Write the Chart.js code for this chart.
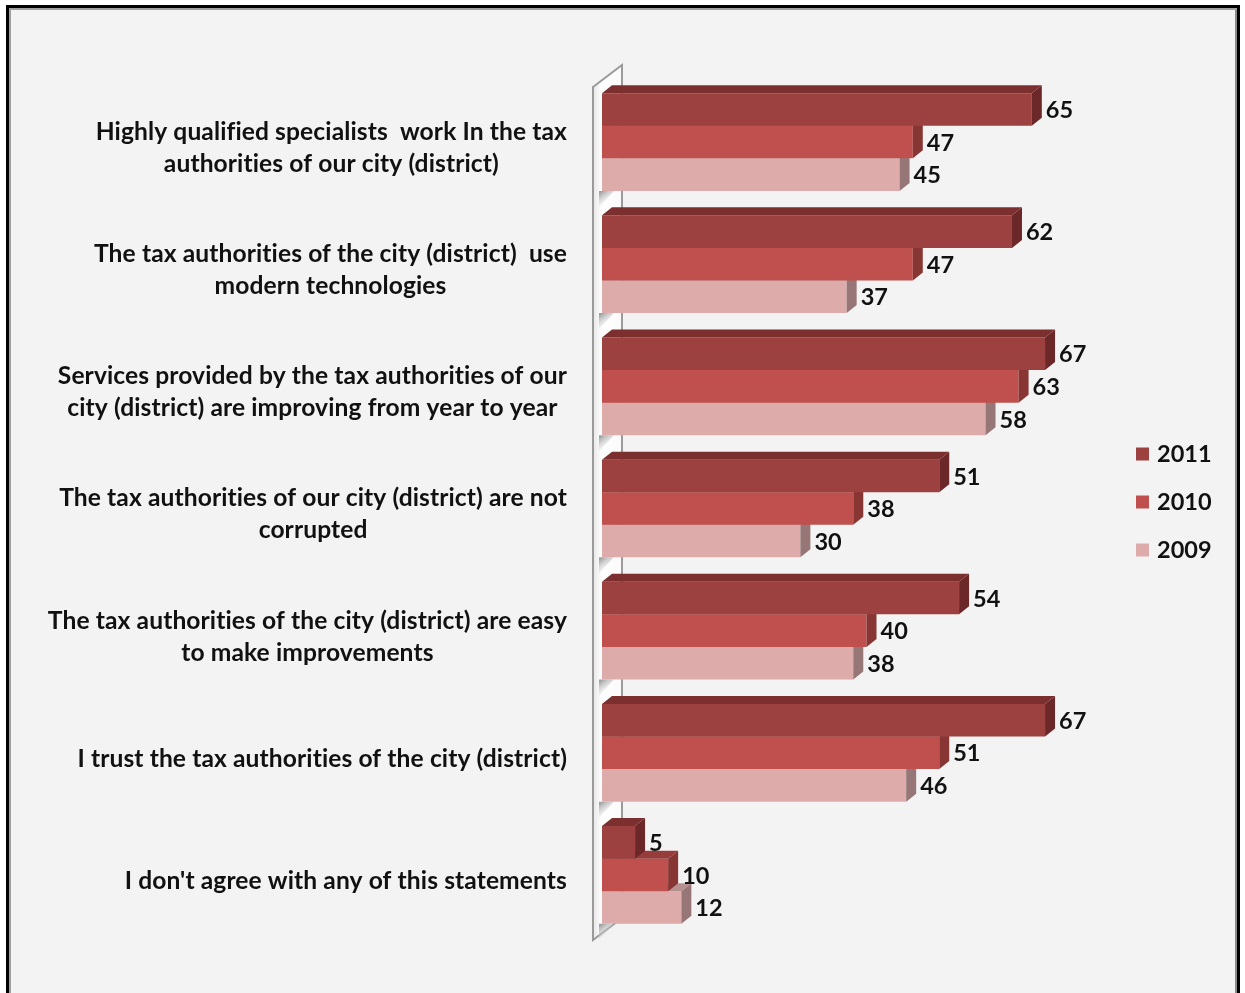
<!DOCTYPE html>
<html lang="en">
<head>
  <meta charset="UTF-8" />
  <title>Trust in the tax authorities</title>
  <script src="https://cdn.jsdelivr.net/npm/chart.js"></script>
  <style>
    html, body {
      margin: 0;
      padding: 0;
      background: #ffffff;
      overflow: hidden;
    }

    #frame {
      position: absolute;
      left: 6px;
      top: 5px;
      width: 1228px;
      height: 1010px;
      background: #f3f3f3;
      border: 3px solid #000;
      border-bottom: none;
      box-shadow: inset 2px 2px 0 #a0a0a0, inset -2px 0 0 #8a8a8a;
    }

    .chart-box {
      position: absolute;
      left: 0;
      top: 0;
      width: 1245px;
      height: 993px;
    }
  </style>
</head>
<body>
  <div id="frame"></div>
  <div class="chart-box">
    <canvas id="taxChart"></canvas>
  </div>

  <script>
    const statements = [
      ['Highly qualified specialists  work In the tax', 'authorities of our city (district)'],
      ['The tax authorities of the city (district)  use', 'modern technologies'],
      ['Services provided by the tax authorities of our', 'city (district) are improving from year to year'],
      ['The tax authorities of our city (district) are not', 'corrupted'],
      ['The tax authorities of the city (district) are easy', 'to make improvements'],
      ['I trust the tax authorities of the city (district)'],
      ["I don't agree with any of this statements"]
    ];
    const years = ['2011', '2010', '2009'];
    const values2011 = [65, 62, 67, 51, 54, 67, 5];
    const values2010 = [47, 47, 63, 38, 40, 51, 10];
    const values2009 = [45, 37, 58, 30, 38, 46, 12];

    // front / top / side colours for each year
    const faceColors = [
      { front: '#9d4140', top: '#7b2f2f', side: '#6c2828' },
      { front: '#c0504d', top: '#963c3a', side: '#883634' },
      { front: '#dcabaa', top: '#b88f8f', side: '#967676' }
    ];

    const FONT = 'bold 23.5px Lato, "Open Sans", sans-serif';
    const CAT_FONT = 'bold 24.6px Lato, "Open Sans", sans-serif';
    const DX = 10, DY = 8;

    function poly(ctx, pts, fill) {
      ctx.beginPath();
      ctx.moveTo(pts[0][0], pts[0][1]);
      for (let i = 1; i < pts.length; i++) ctx.lineTo(pts[i][0], pts[i][1]);
      ctx.closePath();
      ctx.fillStyle = fill;
      ctx.fill();
    }

    const bars3d = {
      id: 'bars3d',
      beforeDatasetsDraw(chart) {
        const ctx = chart.ctx;
        const a = chart.chartArea;
        const y = chart.scales.y;
        // side wall
        const fx = a.left - 9, bx = fx + 29;
        const top = a.top + 6, bottom = a.bottom + 4;
        ctx.save();
        const g = ctx.createLinearGradient(fx, 0, bx, 0);
        g.addColorStop(0, '#e6e6e6');
        g.addColorStop(0.3, '#ffffff');
        g.addColorStop(1, '#fafafa');
        ctx.beginPath();
        ctx.moveTo(fx, top);
        ctx.lineTo(bx, top - 22);
        ctx.lineTo(bx, bottom - 22);
        ctx.lineTo(fx, bottom);
        ctx.closePath();
        ctx.fillStyle = g;
        ctx.fill();
        ctx.strokeStyle = '#9a9a9a';
        ctx.lineWidth = 2;
        ctx.stroke();
        // shading under each group on the wall
        const step = y.getPixelForValue(1) - y.getPixelForValue(0);
        for (let i = 0; i < statements.length; i++) {
          const yb = y.getPixelForValue(i) + step * 0.4;
          const sg = ctx.createLinearGradient(a.left, yb, a.left + 10, yb + 14);
          sg.addColorStop(0, 'rgba(150,150,150,0.9)');
          sg.addColorStop(1, 'rgba(255,255,255,0)');
          poly(ctx, [[a.left - 3, yb], [a.left + 12, yb], [a.left - 3, yb + 16]], sg);
        }
        ctx.restore();
      },
      afterDatasetDraw(chart, args) {
        const ctx = chart.ctx;
        const c = faceColors[args.index];
        ctx.save();
        args.meta.data.forEach(bar => {
          const t = bar.y - bar.height / 2;
          const b = bar.y + bar.height / 2;
          poly(ctx, [[bar.base, t], [bar.base + DX, t - DY], [bar.x + DX, t - DY], [bar.x, t]], c.top);
          poly(ctx, [[bar.x, t], [bar.x + DX, t - DY], [bar.x + DX, b - DY], [bar.x, b]], c.side);
        });
        ctx.restore();
      },
      afterDatasetsDraw(chart) {
        const ctx = chart.ctx;
        const a = chart.chartArea;
        const y = chart.scales.y;
        ctx.save();
        ctx.font = FONT;
        ctx.fillStyle = '#111';
        ctx.textBaseline = 'middle';

        // value labels
        ctx.textAlign = 'left';
        chart.data.datasets.forEach((ds, di) => {
          chart.getDatasetMeta(di).data.forEach((bar, i) => {
            ctx.fillText(String(ds.data[i]), bar.x + DX + 4, bar.y + 1);
          });
        });

        // legend
        const midY = (a.top + a.bottom) / 2 - 7;
        chart.data.datasets.forEach((ds, di) => {
          const ly = midY + (di - 1) * 48;
          ctx.fillStyle = ds.backgroundColor;
          ctx.fillRect(a.right + 5, ly - 6, 13, 13);
          ctx.fillStyle = '#111';
          ctx.textAlign = 'left';
          ctx.fillText(ds.label, a.right + 26, ly + 1);
        });

        // category labels: block right-aligned, lines centred in the block
        ctx.font = CAT_FONT;
        ctx.letterSpacing = '0.1px'; // keeps "ti" from turning into a ligature
        ctx.textAlign = 'center';
        const right = a.left - 35;
        statements.forEach((lines, i) => {
          const w = Math.max(...lines.map(l => ctx.measureText(l).width));
          const cx = right - w / 2;
          const cy = y.getPixelForValue(i) + 6;
          lines.forEach((l, k) => {
            ctx.fillText(l, cx, cy + (k - (lines.length - 1) / 2) * 32);
          });
        });
        ctx.restore();
      }
    };

    new Chart(document.getElementById('taxChart'), {
      type: 'bar',
      data: {
        labels: statements,
        datasets: [
          { label: years[0], data: values2011, backgroundColor: faceColors[0].front },
          { label: years[1], data: values2010, backgroundColor: faceColors[1].front },
          { label: years[2], data: values2009, backgroundColor: faceColors[2].front }
        ]
      },
      options: {
        indexAxis: 'y',
        responsive: true,
        maintainAspectRatio: false,
        animation: false,
        layout: { padding: { left: 602, right: 114, top: 81, bottom: 57 } },
        datasets: {
          bar: { categoryPercentage: 0.8, barPercentage: 1.0, borderWidth: 0 }
        },
        scales: {
          x: { display: false, min: 0, max: 80 },
          y: { display: false }
        },
        plugins: {
          legend: { display: false },
          tooltip: { enabled: false }
        }
      },
      plugins: [bars3d]
    });
  </script>
</body>
</html>
